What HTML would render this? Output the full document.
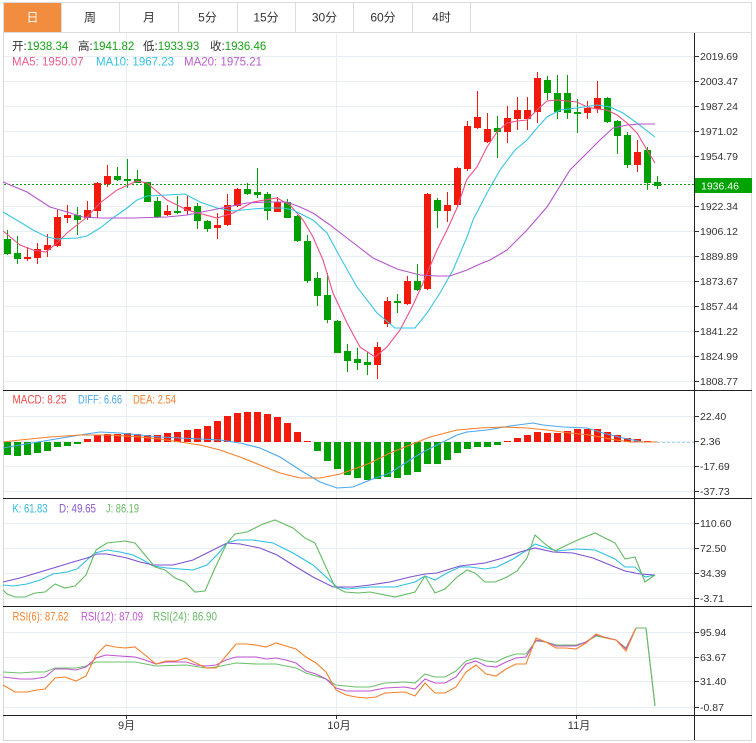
<!DOCTYPE html>
<html><head><meta charset="utf-8"><style>
html,body{margin:0;padding:0;background:#fff;width:756px;height:743px;overflow:hidden}
svg{display:block;font-family:"Liberation Sans","Noto Sans CJK SC",sans-serif}
</style></head><body>
<svg width="756" height="743" viewBox="0 0 756 743" xmlns="http://www.w3.org/2000/svg">
<rect x="0" y="0" width="756" height="743" fill="#fff"/>
<!-- tab bar -->
<rect x="3.5" y="2.5" width="748" height="30" fill="#fff" stroke="#dcdcdc"/>
<rect x="4" y="3" width="57" height="29" fill="#f28c3e"/>
<g stroke="#dcdcdc">
<line x1="61.5" y1="3" x2="61.5" y2="32"/><line x1="119.5" y1="3" x2="119.5" y2="32"/><line x1="178.5" y1="3" x2="178.5" y2="32"/><line x1="237.5" y1="3" x2="237.5" y2="32"/><line x1="295.5" y1="3" x2="295.5" y2="32"/><line x1="353.5" y1="3" x2="353.5" y2="32"/><line x1="412.5" y1="3" x2="412.5" y2="32"/><line x1="470.5" y1="3" x2="470.5" y2="32"/>
</g>
<g font-size="12" text-anchor="middle" fill="#333">
<text x="32.5" y="21.5" fill="#fff">日</text><text x="90" y="21.5">周</text><text x="149" y="21.5">月</text><text x="207.5" y="21.5">5分</text><text x="266" y="21.5">15分</text><text x="324.5" y="21.5">30分</text><text x="383" y="21.5">60分</text><text x="441.5" y="21.5">4时</text>
</g>
<!-- outer borders -->
<g stroke="#d8d8d8"><line x1="3.5" y1="32" x2="3.5" y2="741"/><line x1="751.5" y1="32" x2="751.5" y2="741"/><line x1="3" y1="740.5" x2="752" y2="740.5"/></g>
<!-- gridlines -->
<g stroke="#e8eef3">
<line x1="4" y1="56.5" x2="694" y2="56.5"/><line x1="4" y1="81.5" x2="694" y2="81.5"/><line x1="4" y1="106.5" x2="694" y2="106.5"/><line x1="4" y1="131.5" x2="694" y2="131.5"/><line x1="4" y1="156.5" x2="694" y2="156.5"/><line x1="4" y1="181.5" x2="694" y2="181.5"/><line x1="4" y1="206.5" x2="694" y2="206.5"/><line x1="4" y1="231.5" x2="694" y2="231.5"/><line x1="4" y1="256.5" x2="694" y2="256.5"/><line x1="4" y1="281.5" x2="694" y2="281.5"/><line x1="4" y1="306.5" x2="694" y2="306.5"/><line x1="4" y1="331.5" x2="694" y2="331.5"/><line x1="4" y1="356.5" x2="694" y2="356.5"/><line x1="4" y1="381.5" x2="694" y2="381.5"/>
<line x1="4" y1="416.5" x2="694" y2="416.5"/><line x1="4" y1="441.5" x2="694" y2="441.5"/><line x1="4" y1="466.5" x2="694" y2="466.5"/><line x1="4" y1="491.5" x2="694" y2="491.5"/>
<line x1="4" y1="523.5" x2="694" y2="523.5"/><line x1="4" y1="548.5" x2="694" y2="548.5"/><line x1="4" y1="573.5" x2="694" y2="573.5"/><line x1="4" y1="598.5" x2="694" y2="598.5"/>
<line x1="4" y1="632.5" x2="694" y2="632.5"/><line x1="4" y1="657.5" x2="694" y2="657.5"/><line x1="4" y1="681.5" x2="694" y2="681.5"/><line x1="4" y1="707.5" x2="694" y2="707.5"/>
<line x1="126.5" y1="33" x2="126.5" y2="715"/><line x1="336.5" y1="33" x2="336.5" y2="715"/><line x1="576.5" y1="33" x2="576.5" y2="715"/>
</g>
<!-- header texts -->
<g font-size="11.5">
<text x="12" y="50" fill="#333">开:<tspan fill="#16a316">1938.34</tspan></text>
<text x="78" y="50" fill="#333">高:<tspan fill="#16a316">1941.82</tspan></text>
<text x="143" y="50" fill="#333">低:<tspan fill="#16a316">1933.93</tspan></text>
<text x="210" y="50" fill="#333">收:<tspan fill="#16a316">1936.46</tspan></text>
<text x="12" y="65.5" fill="#ec5a8c">MA5: 1950.07</text>
<text x="96" y="65.5" fill="#33c3e3">MA10: 1967.23</text>
<text x="184" y="65.5" fill="#bb5ccc">MA20: 1975.21</text>
<text x="12.5" y="403.5" fill="#f04848" textLength="54" lengthAdjust="spacingAndGlyphs">MACD: 8.25</text>
<text x="78" y="403.5" fill="#4aa8ee" textLength="44" lengthAdjust="spacingAndGlyphs">DIFF: 6.66</text>
<text x="133" y="403.5" fill="#f57f2a" textLength="43" lengthAdjust="spacingAndGlyphs">DEA: 2.54</text>
<text x="12.5" y="512.5" fill="#2ab9da" textLength="35" lengthAdjust="spacingAndGlyphs">K: 61.83</text>
<text x="59" y="512.5" fill="#8656d0" textLength="37" lengthAdjust="spacingAndGlyphs">D: 49.65</text>
<text x="106" y="512.5" fill="#66bb5e" textLength="33" lengthAdjust="spacingAndGlyphs">J: 86.19</text>
<text x="12.5" y="620.5" fill="#f5822a" textLength="56" lengthAdjust="spacingAndGlyphs">RSI(6): 87.62</text>
<text x="81" y="620.5" fill="#c055d0" textLength="62" lengthAdjust="spacingAndGlyphs">RSI(12): 87.09</text>
<text x="153" y="620.5" fill="#66bb66" textLength="64" lengthAdjust="spacingAndGlyphs">RSI(24): 86.90</text>
</g>
<!-- current price dotted line -->
<line x1="4" y1="184.5" x2="694" y2="184.5" stroke="#0a9a0a" stroke-dasharray="2,2"/>
<!-- candles -->
<g stroke-width="1">
<g fill="#00a000" stroke="#00a000">
<line x1="7.5" y1="230" x2="7.5" y2="255"/><rect x="4" y="239" width="7" height="15" stroke="none"/>
<line x1="17.5" y1="236" x2="17.5" y2="264"/><rect x="14" y="253" width="7" height="6" stroke="none"/>
<line x1="77.5" y1="207" x2="77.5" y2="235"/><rect x="74" y="215" width="7" height="5" stroke="none"/>
<line x1="117.5" y1="167" x2="117.5" y2="181"/><rect x="114" y="176" width="7" height="4" stroke="none"/>
<line x1="127.5" y1="159" x2="127.5" y2="188"/><rect x="124" y="179" width="7" height="2" stroke="none"/>
<line x1="137.5" y1="170" x2="137.5" y2="183"/><rect x="134" y="179" width="7" height="4" stroke="none"/>
<line x1="147.5" y1="182" x2="147.5" y2="202"/><rect x="144" y="182" width="7" height="20" stroke="none"/>
<line x1="157.5" y1="197" x2="157.5" y2="218"/><rect x="154" y="201" width="7" height="16" stroke="none"/>
<line x1="177.5" y1="196" x2="177.5" y2="214"/><rect x="174" y="211" width="7" height="2" stroke="none"/>
<line x1="197.5" y1="203" x2="197.5" y2="229"/><rect x="194" y="206" width="7" height="15" stroke="none"/>
<line x1="207.5" y1="220" x2="207.5" y2="232"/><rect x="204" y="221" width="7" height="8" stroke="none"/>
<line x1="247.5" y1="183" x2="247.5" y2="195"/><rect x="244" y="189" width="7" height="5" stroke="none"/>
<line x1="257.5" y1="168" x2="257.5" y2="198"/><rect x="254" y="192" width="7" height="3" stroke="none"/>
<line x1="267.5" y1="192" x2="267.5" y2="220"/><rect x="264" y="194" width="7" height="17" stroke="none"/>
<line x1="287.5" y1="199" x2="287.5" y2="218"/><rect x="284" y="202" width="7" height="16" stroke="none"/>
<line x1="297.5" y1="215" x2="297.5" y2="242"/><rect x="294" y="216" width="7" height="25" stroke="none"/>
<line x1="307.5" y1="235" x2="307.5" y2="283"/><rect x="304" y="241" width="7" height="40" stroke="none"/>
<line x1="317.5" y1="272" x2="317.5" y2="306"/><rect x="314" y="278" width="7" height="18" stroke="none"/>
<line x1="327.5" y1="273" x2="327.5" y2="323"/><rect x="324" y="295" width="7" height="25" stroke="none"/>
<line x1="337.5" y1="320" x2="337.5" y2="353"/><rect x="334" y="321" width="7" height="32" stroke="none"/>
<line x1="347.5" y1="344" x2="347.5" y2="372"/><rect x="344" y="351" width="7" height="10" stroke="none"/>
<line x1="357.5" y1="348" x2="357.5" y2="370"/><rect x="354" y="359" width="7" height="4" stroke="none"/>
<line x1="367.5" y1="352" x2="367.5" y2="375"/><rect x="364" y="362" width="7" height="3" stroke="none"/>
<line x1="397.5" y1="294" x2="397.5" y2="313"/><rect x="394" y="301" width="7" height="2" stroke="none"/>
<line x1="417.5" y1="264" x2="417.5" y2="291"/><rect x="414" y="281" width="7" height="9" stroke="none"/>
<line x1="437.5" y1="198" x2="437.5" y2="228"/><rect x="434" y="200" width="7" height="11" stroke="none"/>
<line x1="497.5" y1="116" x2="497.5" y2="158"/><rect x="494" y="128" width="7" height="4" stroke="none"/>
<line x1="547.5" y1="76" x2="547.5" y2="100"/><rect x="544" y="80" width="7" height="13" stroke="none"/>
<line x1="557.5" y1="75" x2="557.5" y2="119"/><rect x="554" y="93" width="7" height="19" stroke="none"/>
<line x1="567.5" y1="75" x2="567.5" y2="119"/><rect x="564" y="93" width="7" height="20" stroke="none"/>
<line x1="577.5" y1="99" x2="577.5" y2="133"/><rect x="574" y="112" width="7" height="2" stroke="none"/>
<line x1="607.5" y1="97" x2="607.5" y2="123"/><rect x="604" y="98" width="7" height="24" stroke="none"/>
<line x1="617.5" y1="120" x2="617.5" y2="154"/><rect x="614" y="121" width="7" height="15" stroke="none"/>
<line x1="627.5" y1="132" x2="627.5" y2="168"/><rect x="624" y="135" width="7" height="30" stroke="none"/>
<line x1="647.5" y1="147" x2="647.5" y2="190"/><rect x="644" y="150" width="7" height="33" stroke="none"/>
<line x1="657.5" y1="176" x2="657.5" y2="189"/><rect x="654" y="182" width="7" height="4" stroke="none"/>
</g>
<g fill="#f21a0c" stroke="#f21a0c">
<line x1="27.5" y1="247" x2="27.5" y2="261"/><rect x="24" y="257" width="7" height="2" stroke="none"/>
<line x1="37.5" y1="243" x2="37.5" y2="264"/><rect x="34" y="249" width="7" height="9" stroke="none"/>
<line x1="47.5" y1="234" x2="47.5" y2="257"/><rect x="44" y="245" width="7" height="5" stroke="none"/>
<line x1="57.5" y1="210" x2="57.5" y2="247"/><rect x="54" y="217" width="7" height="29" stroke="none"/>
<line x1="67.5" y1="205" x2="67.5" y2="223"/><rect x="64" y="215" width="7" height="3" stroke="none"/>
<line x1="87.5" y1="201" x2="87.5" y2="220"/><rect x="84" y="210" width="7" height="8" stroke="none"/>
<line x1="97.5" y1="182" x2="97.5" y2="218"/><rect x="94" y="183" width="7" height="28" stroke="none"/>
<line x1="107.5" y1="165" x2="107.5" y2="187"/><rect x="104" y="176" width="7" height="8" stroke="none"/>
<line x1="167.5" y1="205" x2="167.5" y2="216"/><rect x="164" y="211" width="7" height="4" stroke="none"/>
<line x1="187.5" y1="195" x2="187.5" y2="215"/><rect x="184" y="207" width="7" height="4" stroke="none"/>
<line x1="217.5" y1="213" x2="217.5" y2="239"/><rect x="214" y="225" width="7" height="3" stroke="none"/>
<line x1="227.5" y1="194" x2="227.5" y2="226"/><rect x="224" y="205" width="7" height="20" stroke="none"/>
<line x1="237.5" y1="188" x2="237.5" y2="207"/><rect x="234" y="189" width="7" height="17" stroke="none"/>
<line x1="277.5" y1="197" x2="277.5" y2="212"/><rect x="274" y="202" width="7" height="10" stroke="none"/>
<line x1="377.5" y1="342" x2="377.5" y2="379"/><rect x="374" y="347" width="7" height="18" stroke="none"/>
<line x1="387.5" y1="297" x2="387.5" y2="327"/><rect x="384" y="301" width="7" height="23" stroke="none"/>
<line x1="407.5" y1="276" x2="407.5" y2="305"/><rect x="404" y="281" width="7" height="23" stroke="none"/>
<line x1="427.5" y1="193" x2="427.5" y2="290"/><rect x="424" y="194" width="7" height="95" stroke="none"/>
<line x1="447.5" y1="192" x2="447.5" y2="222"/><rect x="444" y="205" width="7" height="6" stroke="none"/>
<line x1="457.5" y1="167" x2="457.5" y2="206"/><rect x="454" y="168" width="7" height="37" stroke="none"/>
<line x1="467.5" y1="121" x2="467.5" y2="171"/><rect x="464" y="126" width="7" height="43" stroke="none"/>
<line x1="477.5" y1="91" x2="477.5" y2="129"/><rect x="474" y="117" width="7" height="11" stroke="none"/>
<line x1="487.5" y1="113" x2="487.5" y2="143"/><rect x="484" y="129" width="7" height="13" stroke="none"/>
<line x1="507.5" y1="106" x2="507.5" y2="143"/><rect x="504" y="118" width="7" height="14" stroke="none"/>
<line x1="517.5" y1="97" x2="517.5" y2="130"/><rect x="514" y="110" width="7" height="9" stroke="none"/>
<line x1="527.5" y1="97" x2="527.5" y2="130"/><rect x="524" y="110" width="7" height="9" stroke="none"/>
<line x1="537.5" y1="72" x2="537.5" y2="123"/><rect x="534" y="78" width="7" height="34" stroke="none"/>
<line x1="587.5" y1="101" x2="587.5" y2="119"/><rect x="584" y="108" width="7" height="5" stroke="none"/>
<line x1="597.5" y1="81" x2="597.5" y2="113"/><rect x="594" y="98" width="7" height="11" stroke="none"/>
<line x1="637.5" y1="140" x2="637.5" y2="172"/><rect x="634" y="152" width="7" height="13" stroke="none"/>
</g>
</g>
<!-- MAs -->
<g fill="none" stroke-width="1.1">
<polyline stroke="#ee4f86" points="3,231 20,245 33,250 46,252 57,243 67,233 87,217 100,203 117,190 137,181 147,183 167,200 187,210 217,218 233,213 253,202 277,198 290,205 303,220 313,237 323,260 333,293 347,323 360,347 375,357 387,347 400,330 413,305 423,283 437,250 447,230 457,208 467,179 477,167 487,147 497,132 507,123 517,121 527,120 537,110 547,101 557,100 567,101 577,102 587,107 597,109 607,110 617,115 627,123 637,133 647,150 655,163"/>
<polyline stroke="#36c6e2" points="3,212 20,222 33,230 47,237 57,239 77,238 87,236 100,228 113,218 127,208 137,200 147,196 167,195 185,194 200,202 217,208 233,211 253,209 267,208 283,208 293,210 313,220 327,233 340,257 357,287 377,313 395,328 415,328 427,313 440,293 453,270 467,237 473,220 487,193 500,170 515,150 527,140 537,128 547,117 560,110 577,108 597,105 610,107 623,113 637,123 655,137"/>
<polyline stroke="#b455cc" points="3,182 27,192 50,207 67,212 83,217 100,218 133,218 167,217 187,215 207,211 227,207 247,203 267,202 287,202 300,207 313,213 330,225 347,238 373,258 397,269 420,275 437,276 450,276 467,270 480,264 490,260 507,250 527,230 547,207 570,170 587,153 600,140 613,128 627,125 640,124 655,124"/>
</g>
<!-- MACD bars -->
<g fill="#00a000">
<rect x="4" y="442" width="7" height="13"/><rect x="14" y="442" width="7" height="14"/><rect x="24" y="442" width="7" height="13"/><rect x="34" y="442" width="7" height="11"/><rect x="44" y="442" width="7" height="9"/><rect x="54" y="442" width="7" height="5"/><rect x="64" y="442" width="7" height="4"/><rect x="74" y="442" width="7" height="2"/>
<rect x="314" y="442" width="7" height="9"/><rect x="324" y="442" width="7" height="19"/><rect x="334" y="442" width="7" height="27"/><rect x="344" y="442" width="7" height="33"/><rect x="354" y="442" width="7" height="36"/><rect x="364" y="442" width="7" height="38"/><rect x="374" y="442" width="7" height="37"/><rect x="384" y="442" width="7" height="35"/><rect x="394" y="442" width="7" height="36"/><rect x="404" y="442" width="7" height="33"/><rect x="414" y="442" width="7" height="30"/><rect x="424" y="442" width="7" height="22"/><rect x="434" y="442" width="7" height="22"/><rect x="444" y="442" width="7" height="18"/><rect x="454" y="442" width="7" height="11"/><rect x="464" y="442" width="7" height="7"/><rect x="474" y="442" width="7" height="5"/><rect x="484" y="442" width="7" height="5"/><rect x="494" y="442" width="7" height="3"/>
</g>
<g fill="#f21a0c">
<rect x="84" y="439" width="7" height="3"/><rect x="94" y="435" width="7" height="7"/><rect x="104" y="434" width="7" height="8"/><rect x="114" y="434" width="7" height="8"/><rect x="124" y="433" width="7" height="9"/><rect x="134" y="434" width="7" height="8"/><rect x="144" y="435" width="7" height="7"/><rect x="154" y="435" width="7" height="7"/><rect x="164" y="433" width="7" height="9"/><rect x="174" y="432" width="7" height="10"/><rect x="184" y="430" width="7" height="12"/><rect x="194" y="429" width="7" height="13"/><rect x="204" y="426" width="7" height="16"/><rect x="214" y="421" width="7" height="21"/><rect x="224" y="416" width="7" height="26"/><rect x="234" y="413" width="7" height="29"/><rect x="244" y="412" width="7" height="30"/><rect x="254" y="412" width="7" height="30"/><rect x="264" y="414" width="7" height="28"/><rect x="274" y="417" width="7" height="25"/><rect x="284" y="423" width="7" height="19"/><rect x="294" y="432" width="7" height="10"/><rect x="304" y="441" width="7" height="1"/>
<rect x="504" y="441" width="7" height="1"/><rect x="514" y="438" width="7" height="4"/><rect x="524" y="435" width="7" height="7"/><rect x="534" y="432" width="7" height="10"/><rect x="544" y="433" width="7" height="9"/><rect x="554" y="433" width="7" height="9"/><rect x="564" y="431" width="7" height="11"/><rect x="574" y="429" width="7" height="13"/><rect x="584" y="429" width="7" height="13"/><rect x="594" y="429" width="7" height="13"/><rect x="604" y="432" width="7" height="10"/><rect x="614" y="435" width="7" height="7"/><rect x="624" y="438" width="7" height="4"/><rect x="634" y="439" width="7" height="3"/><rect x="644" y="441" width="7" height="1"/>
</g>
<line x1="657" y1="442.5" x2="694" y2="442.5" stroke="#a8d4ee" stroke-dasharray="3,2"/>
<g fill="none" stroke-width="1.1">
<polyline stroke="#4aa8ee" points="3,448 20,445 50,440 80,435 100,432 120,433 140,435 160,437 180,438 200,439 220,440 240,443 260,448 280,457 300,470 320,482 337,488 353,487 370,480 390,473 410,460 423,452 437,445 457,435 467,432 487,430 510,426 533,423 543,425 563,427 587,428 603,433 623,438 643,442 657,442"/>
<polyline stroke="#f57f2a" points="3,442 20,440 50,437 80,435 110,435 140,437 160,439 180,442 200,445 220,450 240,457 260,465 280,473 300,478 320,478 340,474 360,467 370,463 390,453 410,445 430,437 457,430 480,428 503,427 527,428 547,430 570,433 590,435 610,439 630,442 657,442"/>
</g>
<!-- KDJ -->
<g fill="none" stroke-width="1.1">
<polyline stroke="#2ec0e0" points="3,585 13,586 27,584 40,580 53,574 67,572 77,569 87,560 95,553 107,550 120,552 133,555 143,560 153,566 167,568 180,569 193,570 207,565 217,555 227,543 237,540 253,540 273,543 293,553 313,565 337,587 347,589 370,587 395,587 415,582 425,576 435,580 447,573 460,567 470,567 485,569 497,567 513,559 527,550 535,544 547,548 557,551 577,549 595,550 615,559 625,567 635,567 645,577 655,575"/>
<polyline stroke="#7d52d0" points="3,582 20,578 40,572 60,566 73,562 87,558 97,554 107,554 127,558 140,562 153,565 173,565 193,560 207,553 227,543 240,544 260,548 277,555 293,565 313,577 333,587 353,587 370,585 390,582 410,577 425,574 437,573 460,566 485,563 503,558 520,552 535,548 553,552 573,553 593,558 610,565 625,571 640,574 655,575"/>
<polyline stroke="#62bb62" points="3,590 7,594 15,597 25,597 35,593 45,592 55,584 65,588 75,586 86,575 96,550 107,543 125,541 135,543 145,555 155,567 165,570 175,578 185,582 195,592 205,591 215,568 227,543 235,534 247,532 263,524 275,520 293,528 305,538 315,543 325,565 335,587 345,592 358,593 370,592 395,597 415,592 425,576 435,593 445,589 457,577 467,570 475,573 485,582 495,582 507,577 517,571 527,558 535,535 545,544 555,551 567,545 580,539 595,533 615,543 625,559 635,557 645,582 655,575"/>
</g>
<!-- RSI -->
<g fill="none" stroke-width="1.1">
<polyline stroke="#6cc06c" points="3,672 20,673 33,672 45,672 55,668 76,668 86,666 96,662 106,662 135,662 156,666 186,665 206,668 216,667 236,663 256,664 276,664 296,668 306,673 326,679 336,685 356,687 370,687 385,683 405,682 415,683 425,674 435,677 445,677 456,671 466,661 476,658 486,661 496,662 506,657 516,654 526,654 536,641 546,642 556,645 576,645 586,642 596,636 616,640 626,648 636,628 646,628 655,706"/>
<polyline stroke="#c055d0" points="3,677 20,679 33,679 45,677 55,669 67,669 76,670 86,667 96,658 106,655 120,656 135,657 145,660 156,664 166,662 176,662 186,662 196,665 206,666 216,665 226,660 236,657 256,657 266,659 276,658 286,660 296,663 306,671 316,674 326,679 336,688 346,691 360,691 370,691 385,688 405,687 415,689 425,679 435,683 445,683 456,677 466,664 476,661 486,666 496,667 506,662 516,658 526,657 536,640 546,642 556,646 576,646 586,642 596,635 616,640 626,649 636,628 646,628"/>
<polyline stroke="#f5822a" points="3,685 15,692 27,692 37,690 45,689 55,678 65,677 76,681 86,676 96,655 106,645 115,647 125,648 135,647 145,655 156,664 166,661 176,661 186,658 196,663 206,668 216,668 226,656 236,644 246,644 256,645 266,647 276,643 286,646 296,649 306,657 316,663 326,672 336,690 346,695 356,697 366,698 376,697 385,693 405,692 415,696 425,683 435,693 445,693 456,687 466,672 476,665 486,674 496,676 506,669 516,664 526,664 536,638 546,642 556,648 566,648 576,649 586,643 596,634 606,638 616,640 626,651 636,628 646,628"/>
<polyline stroke="#6cb86c" points="636,628 646,628 655,706"/>
</g>
<!-- panel separators & axis -->
<g stroke="#222">
<line x1="3" y1="390.5" x2="752" y2="390.5"/><line x1="3" y1="498.5" x2="752" y2="498.5"/><line x1="3" y1="606.5" x2="752" y2="606.5"/><line x1="3" y1="715.5" x2="752" y2="715.5"/>
<line x1="694.5" y1="33" x2="694.5" y2="740"/>
</g>
<!-- axis ticks -->
<g stroke="#333">
<line x1="695" y1="56.5" x2="699" y2="56.5"/><line x1="695" y1="81.5" x2="699" y2="81.5"/><line x1="695" y1="106.5" x2="699" y2="106.5"/><line x1="695" y1="131.5" x2="699" y2="131.5"/><line x1="695" y1="156.5" x2="699" y2="156.5"/><line x1="695" y1="206.5" x2="699" y2="206.5"/><line x1="695" y1="231.5" x2="699" y2="231.5"/><line x1="695" y1="256.5" x2="699" y2="256.5"/><line x1="695" y1="281.5" x2="699" y2="281.5"/><line x1="695" y1="306.5" x2="699" y2="306.5"/><line x1="695" y1="331.5" x2="699" y2="331.5"/><line x1="695" y1="356.5" x2="699" y2="356.5"/><line x1="695" y1="381.5" x2="699" y2="381.5"/>
<line x1="695" y1="416.5" x2="699" y2="416.5"/><line x1="695" y1="441.5" x2="699" y2="441.5"/><line x1="695" y1="466.5" x2="699" y2="466.5"/><line x1="695" y1="491.5" x2="699" y2="491.5"/>
<line x1="695" y1="523.5" x2="699" y2="523.5"/><line x1="695" y1="548.5" x2="699" y2="548.5"/><line x1="695" y1="573.5" x2="699" y2="573.5"/><line x1="695" y1="598.5" x2="699" y2="598.5"/>
<line x1="695" y1="632.5" x2="699" y2="632.5"/><line x1="695" y1="657.5" x2="699" y2="657.5"/><line x1="695" y1="681.5" x2="699" y2="681.5"/><line x1="695" y1="707.5" x2="699" y2="707.5"/>
<line x1="126.5" y1="716" x2="126.5" y2="719"/><line x1="336.5" y1="716" x2="336.5" y2="719"/><line x1="576.5" y1="716" x2="576.5" y2="719"/>
</g>
<g font-size="10.5" fill="#333">
<text x="700" y="60">2019.69</text><text x="700" y="85">2003.47</text><text x="700" y="110">1987.24</text><text x="700" y="135">1971.02</text><text x="700" y="160">1954.79</text><text x="700" y="210">1922.34</text><text x="700" y="235">1906.12</text><text x="700" y="260">1889.89</text><text x="700" y="285">1873.67</text><text x="700" y="310">1857.44</text><text x="700" y="335">1841.22</text><text x="700" y="360">1824.99</text><text x="700" y="385">1808.77</text>
<text x="700" y="420">22.40</text><text x="700" y="445">2.36</text><text x="700" y="470">-17.69</text><text x="700" y="495">-37.73</text>
<text x="700" y="527">110.60</text><text x="700" y="552">72.50</text><text x="700" y="577">34.39</text><text x="700" y="602">-3.71</text>
<text x="700" y="636">95.94</text><text x="700" y="661">63.67</text><text x="700" y="685">31.40</text><text x="700" y="711">-0.87</text>
</g>
<rect x="695" y="178" width="57" height="15" fill="#00a300"/>
<text x="701" y="189.5" font-size="10.5" fill="#fff">1936.46</text>
<g font-size="11" fill="#333" text-anchor="middle">
<text x="126.5" y="729">9月</text><text x="339" y="729">10月</text><text x="579" y="729">11月</text>
</g>
</svg>
</body></html>
